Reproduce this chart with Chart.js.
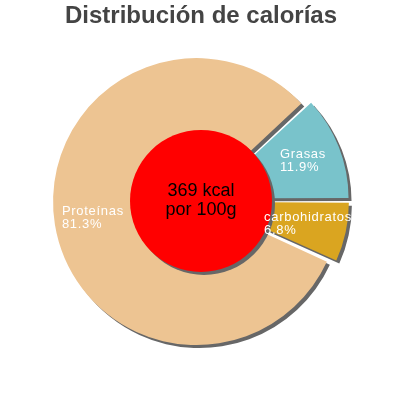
<!DOCTYPE html>
<html>
<head>
<meta charset="utf-8">
<script src="https://cdn.jsdelivr.net/npm/chart.js@4"></script>
<style>
  html, body { margin: 0; padding: 0; background: #fff; }
  #wrap { width: 400px; height: 400px; position: relative; }
</style>
</head>
<body>
<div id="wrap"><canvas id="myChart"></canvas></div>
<script>
// data
var categories = ['Grasas', 'carbohidratos', 'Proteínas'];
var percentages = [11.9, 6.8, 81.3];
var energyKcal = 369;
var centerText = [energyKcal + ' kcal', 'por 100g'];

var SHIFT = 9; // how far every slice is pulled out, px
var total = percentages.reduce(function (a, b) { return a + b; }, 0);

// chart.js moves an arc by offset/4 * (1 + fix), undo that so every slice moves SHIFT px
function sliceOffset(c) {
  var circ = c.parsed / total * Math.PI * 2;
  var fix = 1 - Math.sin(Math.min(Math.PI, circ));
  return SHIFT * 4 / (1 + fix);
}

var shadowPlugin = {
  id: 'shadow',
  beforeDatasetsDraw: function (chart) {
    var c = chart.ctx;
    c.save();
    c.shadowColor = '#676767';
    c.shadowOffsetX = 3;
    c.shadowOffsetY = 3;
    c.shadowBlur = 0;
  },
  afterDatasetsDraw: function (chart) {
    var c = chart.ctx;
    c.restore();
    var arcs = chart.getDatasetMeta(0).data;
    var cx = arcs[0].x, cy = arcs[0].y;

    // red centre disc with its shadow
    c.save();
    c.shadowColor = '#676767';
    c.shadowOffsetX = 3;
    c.shadowOffsetY = 3;
    c.beginPath();
    c.arc(cx, cy, 71, 0, Math.PI * 2);
    c.fillStyle = '#ff0000';
    c.fill();
    c.restore();

    c.save();
    c.fillStyle = '#000';
    c.font = '18px "Liberation Sans", Arial, sans-serif';
    c.textAlign = 'center';
    c.textBaseline = 'middle';
    c.fillText(centerText[0], cx, cy - 10);
    c.fillText(centerText[1], cx, cy + 9);
    c.restore();

    // slice labels, two left aligned lines centred on the slice
    c.save();
    c.fillStyle = '#fff';
    c.font = '13px "Liberation Sans", Arial, sans-serif';
    c.letterSpacing = '0.7px';
    c.textAlign = 'left';
    c.textBaseline = 'middle';
    arcs.forEach(function (arc, i) {
      var p = arc.getProps(['startAngle', 'endAngle', 'innerRadius', 'outerRadius']);
      var mid = (p.startAngle + p.endAngle) / 2;
      var r = (p.innerRadius + p.outerRadius) / 2 + SHIFT + 1;
      var lx = cx + Math.cos(mid) * r;
      var ly = cy + Math.sin(mid) * r;
      var l1 = categories[i];
      var l2 = percentages[i].toFixed(1) + '%';
      var w = Math.max(c.measureText(l1).width, c.measureText(l2).width);
      c.fillText(l1, lx - w / 2, ly - 6.5);
      c.fillText(l2, lx - w / 2, ly + 6.5);
    });
    c.restore();
  }
};

var ctx = document.getElementById('myChart').getContext('2d');

var myChart = new Chart(ctx, {
  type: 'doughnut',
  data: {
    labels: categories,
    datasets: [{
      data: percentages,
      backgroundColor: ['#79c3cb', '#daa520', '#edc492'],
      borderWidth: 0,
      offset: sliceOffset,
      hoverOffset: 0
    }]
  },
  options: {
    responsive: true,
    maintainAspectRatio: false,
    animation: false,
    events: [],
    rotation: 90 - percentages[0] / total * 360,
    radius: 139,
    cutout: (60 / 139 * 100) + '%',
    layout: { padding: { left: 2, right: 0, top: 0, bottom: 39 } },
    plugins: {
      legend: { display: false },
      tooltip: { enabled: false },
      title: {
        display: true,
        text: 'Distribución de calorías',
        color: '#444',
        font: { family: '"Liberation Sans", Arial, sans-serif', size: 24, weight: 'bold' },
        padding: { top: 2, bottom: 10 }
      }
    }
  },
  plugins: [shadowPlugin]
});
</script>
</body>
</html>
